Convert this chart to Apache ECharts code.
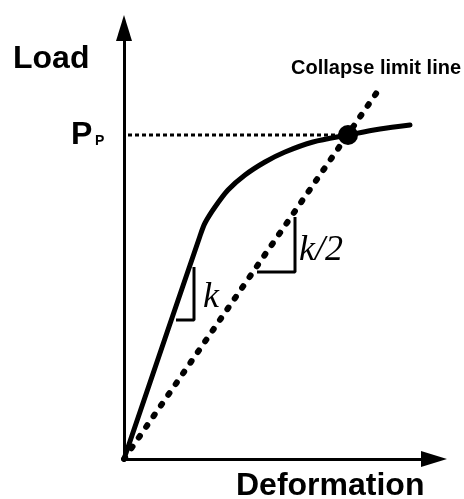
<!DOCTYPE html>
<html>
<head>
<meta charset="utf-8">
<script src="https://cdn.jsdelivr.net/npm/echarts@6/dist/echarts.min.js"></script>
<style>html,body{margin:0;padding:0;background:#fff}#c{width:464px;height:499px}</style>
</head>
<body>
<div id="c"></div>
<script>
// Load–deformation curve (arbitrary units)
const curveDeformation = [0, 76, 81, 91, 104, 121, 141, 161, 189, 224, 256, 286];
const curveLoad        = [0, 223, 236, 252, 269, 284, 297, 307, 317, 324, 330, 334];
// Collapse limit line (slope k/2)
const limitDeformation = [0, 258];
const limitLoad        = [0, 374];
// Plastic collapse load Pp and intersection point
const ppLoad = 324;
const ppLineDeformation = [4, 220];
const collapsePoint = [224, 324];
// slope triangles
const kTriX  = [52, 70, 70];
const kTriY  = [139, 139, 192];
const k2TriX = [133, 171, 171];
const k2TriY = [187, 187, 242];
// axis extents
const deformationMax = 310;
const loadMax = 431;
// texts
const yAxisTitle = 'Load';
const xAxisTitle = 'Deformation';
const limitTitle = 'Collapse limit line';
const ppMain = 'P';
const ppSub = 'P';
const kLabel = 'k';
const k2Label = 'k/2';

const zip = (a, b) => a.map((v, i) => [v, b[i]]);

const chart = echarts.init(document.getElementById('c'), null, {renderer: 'canvas'});
const sans = '"Liberation Sans", Arial, sans-serif';
const serif = '"Liberation Serif", "Times New Roman", serif';
function txt(text, x, y, font, align, va) {
  return {type: 'text', x: x, y: y, silent: true,
    style: {text: text, font: font, fill: '#000', align: align || 'left', verticalAlign: va || 'middle',
            textAlign: align || 'left', textVerticalAlign: va || 'middle'}};
}
const lineBase = {type: 'line', symbol: 'none', showSymbol: false, silent: true, animation: false};
const axisLine = {show: true, onZero: false, lineStyle: {color: '#000', width: 3}, symbol: ['none', 'triangle'], symbolSize: [16, 26]};
chart.setOption({
  animation: false,
  grid: {left: 124, top: 28, right: 30, bottom: 40},
  xAxis: {type: 'value', min: 0, max: deformationMax, axisLine: axisLine,
    axisTick: {show: false}, axisLabel: {show: false}, splitLine: {show: false}},
  yAxis: {type: 'value', min: 0, max: loadMax, axisLine: axisLine,
    axisTick: {show: false}, axisLabel: {show: false}, splitLine: {show: false}},
  series: [
    Object.assign({}, lineBase, {data: zip(ppLineDeformation, [ppLoad, ppLoad]),
      lineStyle: {color: '#000', width: 3, type: [4, 3], cap: 'butt'}}),
    Object.assign({}, lineBase, {data: zip(limitDeformation, limitLoad),
      lineStyle: {color: '#000', width: 6, type: [2, 11], cap: 'round'}}),
    Object.assign({}, lineBase, {data: zip(curveDeformation, curveLoad), smooth: 0.3,
      lineStyle: {color: '#000', width: 5, cap: 'round', join: 'round'}}),
    Object.assign({}, lineBase, {data: zip(kTriX, kTriY), lineStyle: {color: '#000', width: 3}}),
    Object.assign({}, lineBase, {data: zip(k2TriX, k2TriY), lineStyle: {color: '#000', width: 3}}),
    {type: 'scatter', data: [collapsePoint], symbol: 'circle', symbolSize: 20,
      itemStyle: {color: '#000', opacity: 1}, silent: true, animation: false}
  ],
  graphic: [
    txt(yAxisTitle, 13, 59, 'bold 32px ' + sans),
    txt(ppMain, 71, 135, 'bold 32px ' + sans),
    txt(ppSub, 95, 141, 'bold 14px ' + sans),
    txt(limitTitle, 291, 68, 'bold 20px ' + sans),
    txt(xAxisTitle, 236, 486, 'bold 32px ' + sans),
    txt(kLabel, 203, 298, 'italic 36px ' + serif),
    txt(k2Label, 299, 251, 'italic 36px ' + serif)
  ]
});
</script>
</body>
</html>
